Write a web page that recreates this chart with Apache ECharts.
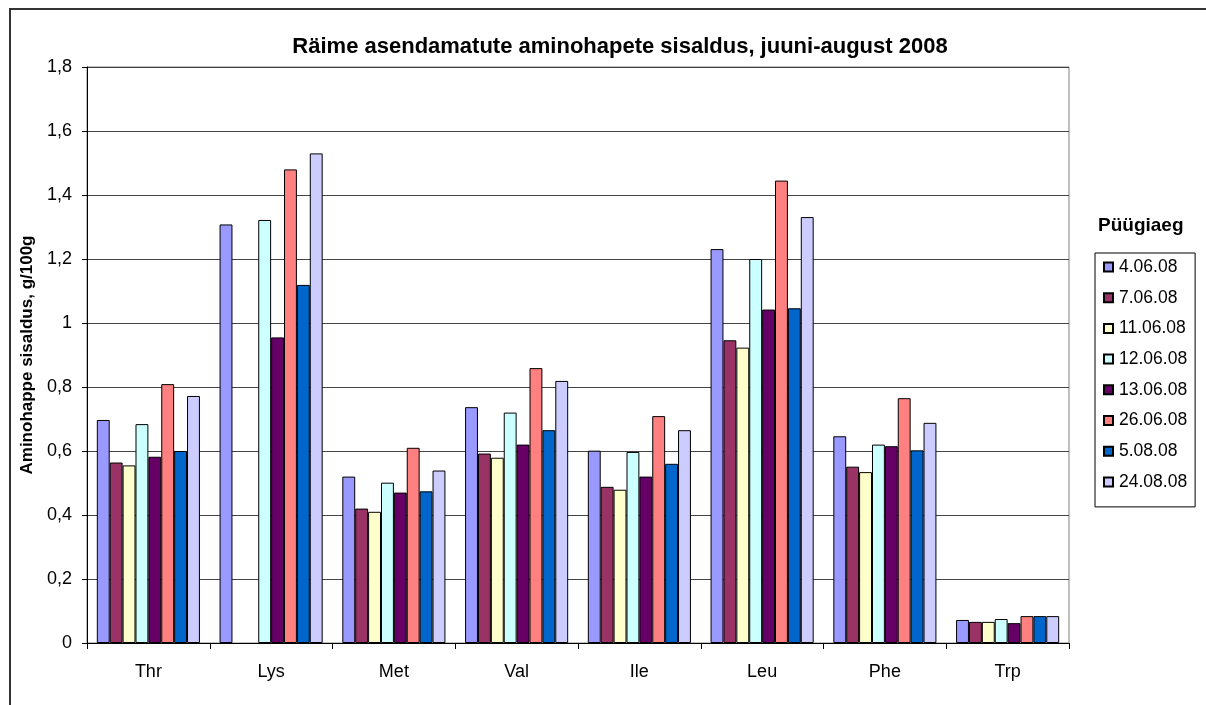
<!DOCTYPE html>
<html>
<head>
<meta charset="utf-8">
<script src="https://cdn.jsdelivr.net/npm/echarts@6/dist/echarts.min.js"></script>
<style>
  html, body { margin: 0; padding: 0; background: #fff; }
  #chart { width: 1206px; height: 705px; }
</style>
</head>
<body>
<div id="chart"></div>
<script>
// aminohapped (x-telg)
const categories = ['Thr', 'Lys', 'Met', 'Val', 'Ile', 'Leu', 'Phe', 'Trp']
const dates = ['4.06.08', '7.06.08', '11.06.08', '12.06.08', '13.06.08', '26.06.08', '5.08.08', '24.08.08']

// sisaldus g/100g, üks massiiv iga püügiaja kohta
const d0406 = [0.697, 1.308, 0.520, 0.737, 0.601, 1.231, 0.646, 0.072]
const d0706 = [0.564, null, 0.420, 0.592, 0.488, 0.946, 0.551, 0.066]
const d1106 = [0.555, null, 0.410, 0.579, 0.479, 0.923, 0.534, 0.066]
const d1206 = [0.684, 1.322, 0.501, 0.720, 0.597, 1.200, 0.620, 0.075]
const d1306 = [0.582, 0.955, 0.470, 0.620, 0.520, 1.042, 0.615, 0.062]
const d2606 = [0.809, 1.480, 0.610, 0.859, 0.709, 1.445, 0.765, 0.084]
const d0508 = [0.600, 1.119, 0.474, 0.665, 0.560, 1.046, 0.602, 0.084]
const d2408 = [0.772, 1.530, 0.539, 0.819, 0.665, 1.331, 0.688, 0.084]

const seriesData = [d0406, d0706, d1106, d1206, d1306, d2606, d0508, d2408]
const colors = ['#9999FF', '#993366', '#FFFFCC', '#CCFFFF', '#660066', '#FF8080', '#0066CC', '#CCCCFF']

const font = 'Liberation Sans, Arial, sans-serif'
const myChart = echarts.init(document.getElementById('chart'))

const option = {
  animation: false,
  textStyle: { fontFamily: font },
  title: {
    text: 'Räime asendamatute aminohapete sisaldus, juuni-august 2008',
    left: 615,
    textAlign: 'center',
    top: 31,
    textStyle: { fontSize: 22, fontWeight: 'bold', color: '#000' }
  },
  graphic: [
    {
      type: 'polyline',
      shape: { points: [[10, 705], [10, 9], [1206, 9]] },
      style: { stroke: '#333', lineWidth: 2, fill: null },
      silent: true
    },
    {
      type: 'text',
      left: 1098,
      top: 216,
      style: { text: 'Püügiaeg', fontSize: 19, fontWeight: 'bold', fill: '#000', fontFamily: font }
    }
  ],
  legend: {
    orient: 'vertical',
    left: 1095,
    top: 253,
    padding: [5, 8, 16, 8],
    itemGap: 12.7,
    itemWidth: 9,
    itemHeight: 9,
    icon: 'rect',
    borderColor: '#000',
    borderWidth: 1,
    textStyle: { fontSize: 17.5, color: '#000', lineHeight: 17, padding: [0, 0, 0, 1] },
    data: dates
  },
  grid: {
    left: 87,
    top: 67,
    width: 982,
    height: 576,
    show: true,
    borderColor: '#808080',
    borderWidth: 1
  },
  xAxis: {
    type: 'category',
    data: categories,
    axisLine: { lineStyle: { color: '#000', width: 1 } },
    axisTick: { show: true, length: 6, lineStyle: { color: '#000' } },
    axisLabel: { fontSize: 18, color: '#000', margin: 20 }
  },
  yAxis: {
    type: 'value',
    min: 0,
    max: 1.8,
    interval: 0.2,
    name: 'Aminohappe sisaldus, g/100g',
    nameLocation: 'middle',
    nameGap: 49,
    nameTextStyle: { fontSize: 17, fontWeight: 'bold', color: '#000' },
    axisLine: { show: true, lineStyle: { color: '#000', width: 1 } },
    axisTick: { show: true, length: 5, lineStyle: { color: '#000' } },
    axisLabel: {
      fontSize: 18,
      color: '#000',
      margin: 15,
      formatter: v => String(Math.round(v * 10) / 10).replace('.', ',')
    },
    splitLine: { lineStyle: { color: '#444', width: 1 } }
  },
  series: dates.map((name, i) => ({
    name: name,
    type: 'bar',
    data: seriesData[i],
    barGap: '0%',
    barCategoryGap: '16%',
    itemStyle: { color: colors[i], borderColor: '#000', borderWidth: 1 }
  }))
}

myChart.setOption(option)
</script>
</body>
</html>
